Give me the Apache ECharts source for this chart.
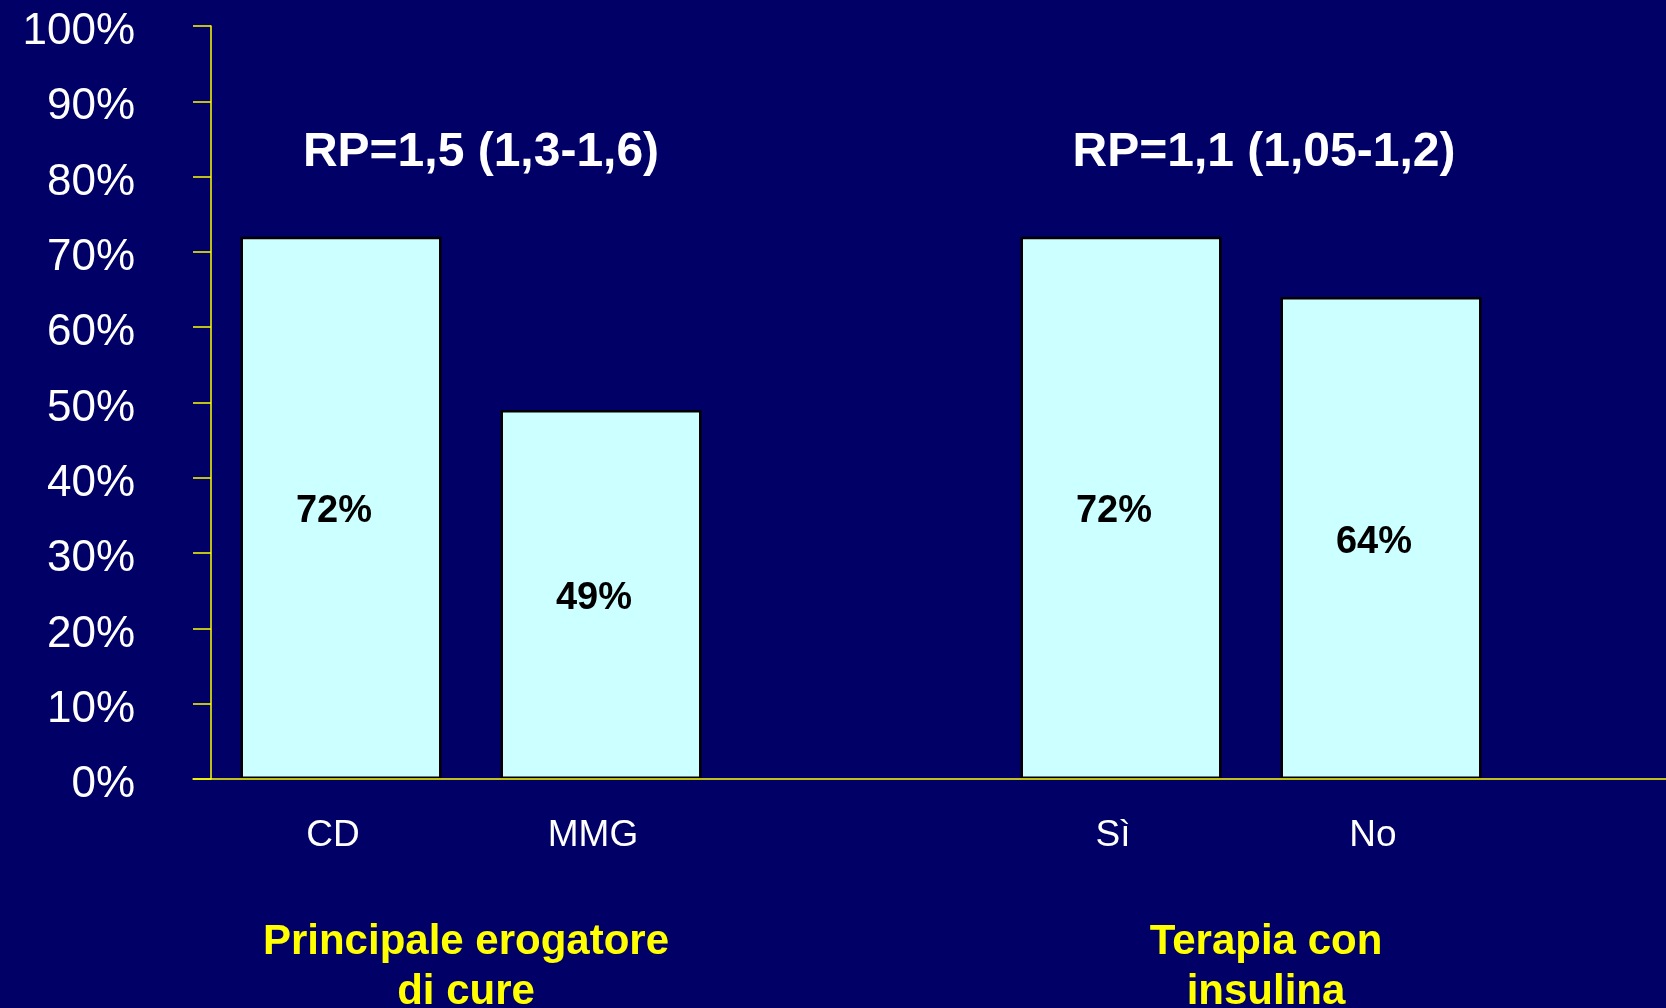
<!DOCTYPE html>
<html>
<head>
<meta charset="utf-8">
<script src="https://cdn.jsdelivr.net/npm/echarts@6/dist/echarts.min.js"></script>
<style>
  html, body { margin: 0; padding: 0; background: #000066; }
  #chart { width: 1666px; height: 1008px; }
</style>
</head>
<body>
<div id="chart"></div>
<script>
// Categories: two groups of two bars, with an empty slot between the groups
var categories = ['CD', 'MMG', '', 'Sì', 'No'];
var values = [72, 49, null, 72, 64];
var yTicks = [0, 10, 20, 30, 40, 50, 60, 70, 80, 90, 100];

// Group headers (relative prevalence) and group names
var groupRP = ['RP=1,5 (1,3-1,6)', 'RP=1,1 (1,05-1,2)'];
var groupNames = ['Principale erogatore\ndi cure', 'Terapia con\ninsulina'];

var FONT = '"Liberation Sans", Arial, sans-serif';
var YELLOW = '#FFFF00';
var chart = echarts.init(document.getElementById('chart'));

chart.setOption({
  backgroundColor: '#000066',
  animation: false,
  grid: [
    { left: 211, top: 26, width: 1300, height: 753, containLabel: false },
    // baseline that runs on to the right edge of the slide
    { left: 193, top: 26, right: 0, height: 753, containLabel: false }
  ],
  xAxis: [
    {
      type: 'category',
      gridIndex: 0,
      data: categories,
      axisLine: { show: false },
      axisTick: { show: false },
      axisLabel: {
        color: '#FFFFFF', fontFamily: FONT, fontSize: 37,
        margin: 38, padding: [0, 16, 0, 0], interval: 0
      },
      z: 3
    },
    {
      type: 'value',
      gridIndex: 1,
      min: 0, max: 1,
      axisLine: { show: true, lineStyle: { color: YELLOW, width: 1.5 } },
      axisTick: { show: false },
      axisLabel: { show: false },
      splitLine: { show: false },
      z: 4
    }
  ],
  yAxis: [
    {
      type: 'value',
      gridIndex: 0,
      min: yTicks[0],
      max: yTicks[yTicks.length - 1],
      interval: 10,
      axisLine: { show: true, lineStyle: { color: YELLOW, width: 1.5 } },
      axisTick: { show: true, inside: false, length: 18, lineStyle: { color: YELLOW, width: 1.5 } },
      splitLine: { show: false },
      axisLabel: {
        color: '#FFFFFF', fontFamily: FONT, fontSize: 44,
        margin: 76, verticalAlign: 'top', lineHeight: 12,
        formatter: function (v) { return v + '%'; }
      }
    },
    {
      type: 'value',
      gridIndex: 1,
      min: 0, max: 1,
      show: false
    }
  ],
  series: [{
    type: 'bar',
    xAxisIndex: 0,
    yAxisIndex: 0,
    data: values,
    barWidth: 201,
    itemStyle: { color: '#CCFFFF', borderColor: '#000000', borderWidth: 2.5 },
    label: {
      show: true,
      position: 'inside',
      offset: [-7, 4],
      color: '#000000',
      fontFamily: FONT,
      fontWeight: 'bold',
      fontSize: 38,
      formatter: function (p) { return p.value + '%'; }
    }
  }],
  graphic: [
    {
      type: 'text', x: 481, y: 153,
      style: { text: groupRP[0], fill: '#FFFFFF', font: 'bold 48px ' + FONT, textAlign: 'center', textVerticalAlign: 'middle' }
    },
    {
      type: 'text', x: 1264, y: 153,
      style: { text: groupRP[1], fill: '#FFFFFF', font: 'bold 48px ' + FONT, textAlign: 'center', textVerticalAlign: 'middle' }
    },
    {
      type: 'text', x: 466, y: 967,
      style: { text: groupNames[0], fill: YELLOW, font: 'bold 42px ' + FONT, lineHeight: 50, textAlign: 'center', textVerticalAlign: 'middle' }
    },
    {
      type: 'text', x: 1266, y: 967,
      style: { text: groupNames[1], fill: YELLOW, font: 'bold 42px ' + FONT, lineHeight: 50, textAlign: 'center', textVerticalAlign: 'middle' }
    }
  ]
});
</script>
</body>
</html>
